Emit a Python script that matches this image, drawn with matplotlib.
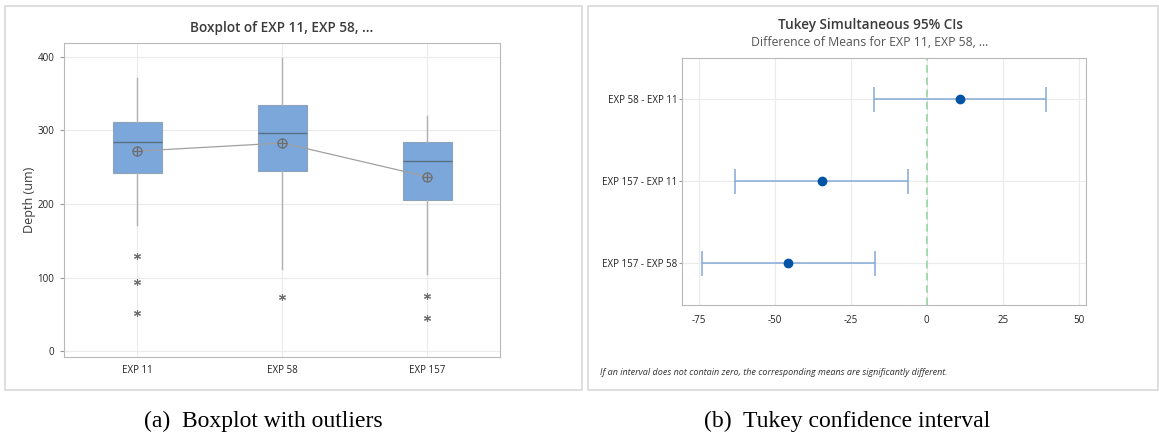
import matplotlib.pyplot as plt
from matplotlib.patches import Rectangle

plt.rcParams['font.family'] = ['Open Sans', 'DejaVu Sans']
plt.rcParams['axes.unicode_minus'] = False

# boxplot summary values (Depth, um)
groups = ['EXP 11', 'EXP 58', 'EXP 157']
q1 = [242, 245, 206]
medians = [285, 296, 259]
q3 = [311, 335, 285]
whisker_low = [172, 112, 105]
whisker_high = [372, 398, 320]
means = [272, 283, 237]
outliers = [[130, 94, 52], [74], [75, 45]]

# Tukey pairwise differences
pairs = ['EXP 58 - EXP 11', 'EXP 157 - EXP 11', 'EXP 157 - EXP 58']
diff_center = [11.0, -34.5, -45.5]
diff_low = [-17.5, -63.0, -74.0]
diff_high = [39.3, -6.0, -16.9]

fig = plt.figure(figsize=(11.59, 4.36), dpi=100)

# light panel frames
for x0, x1 in [(5, 582), (588, 1158)]:
    fig.patches.append(Rectangle((x0 / 1159, 1 - 390 / 436), (x1 - x0) / 1159, 384 / 436,
                                 transform=fig.transFigure, fill=False,
                                 edgecolor='#d9d9d9', linewidth=1.2))

grid_kw = dict(color='#ebebeb', linewidth=0.8)
title_kw = dict(fontsize=9.8, color='#3a3a3a', fontweight='semibold')

# ---- (a) boxplot
ax1 = fig.add_axes([0.0548, 0.1812, 0.3766, 0.7202])
stats = []
for i, g in enumerate(groups):
    stats.append(dict(label=g, q1=q1[i], med=medians[i], q3=q3[i],
                      whislo=whisker_low[i], whishi=whisker_high[i],
                      mean=means[i], fliers=outliers[i]))
pos = [1, 2, 3]
ax1.bxp(stats, positions=pos, widths=0.335, patch_artist=True,
        showmeans=False, showcaps=False,
        boxprops=dict(facecolor='#7ba7db', edgecolor='#8ea3b8', linewidth=0.8),
        medianprops=dict(color='#5b6f86', linewidth=1.0),
        whiskerprops=dict(color='#b0b0b0', linewidth=1.0),
        flierprops=dict(marker=(6, 2, 0), markersize=5, markeredgecolor='#6e6e6e',
                        markeredgewidth=0.8, linestyle='none'))
ax1.plot(pos, means, color='#a0a0a0', linewidth=0.9, zorder=4)
ax1.plot(pos, means, 'o', markersize=6.5, markerfacecolor='none',
         markeredgecolor='#6e6e6e', markeredgewidth=0.9, zorder=5)
ax1.plot(pos, means, '+', markersize=6.5, markeredgecolor='#6e6e6e',
         markeredgewidth=0.9, zorder=5)
ax1.set_xlim(0.49, 3.5)
ax1.set_ylim(-8, 419)
ax1.set_yticks([0, 100, 200, 300, 400])
ax1.set_xticks(pos)
ax1.set_xticklabels(groups)
ax1.grid(True, **grid_kw)
ax1.set_axisbelow(True)
ax1.set_ylabel('Depth (um)', fontsize=9, color='#3a3a3a')
ax1.yaxis.set_label_coords(-0.063, 0.5)
ax1.set_title('Boxplot of EXP 11, EXP 58, ...', pad=8, **title_kw)
ax1.tick_params(axis='both', labelsize=7, colors='#222222', length=3, color='#999999')
ax1.tick_params(axis='x', length=0, pad=6)
for s in ax1.spines.values():
    s.set_color('#b8b8b8')

# ---- (b) Tukey intervals
ax2 = fig.add_axes([0.5882, 0.2998, 0.3488, 0.5679])
rows = [3, 2, 1]
err = [[c - lo for c, lo in zip(diff_center, diff_low)],
       [hi - c for c, hi in zip(diff_center, diff_high)]]
ax2.errorbar(diff_center, rows, xerr=err, fmt='none', ecolor='#84a9d6',
             elinewidth=1.1, capsize=9, capthick=1.1, zorder=3)
ax2.plot(diff_center, rows, 'o', color='#0054a6', markersize=6, zorder=4)
ax2.axvline(0, color='#8fd39b', linestyle=(0, (5, 3)), linewidth=1.1, zorder=2)
ax2.set_xlim(-80.6, 52.4)
ax2.set_ylim(0.49, 3.5)
ax2.set_xticks([-75, -50, -25, 0, 25, 50])
ax2.set_yticks(rows)
ax2.set_yticklabels(pairs)
ax2.grid(True, **grid_kw)
ax2.set_axisbelow(True)
ax2.tick_params(axis='both', labelsize=7, colors='#222222', length=0)
ax2.tick_params(axis='y', length=2, color='#999999', pad=1)
ax2.tick_params(axis='x', pad=7)
for s in ax2.spines.values():
    s.set_color('#b8b8b8')

fig.text(0.7507, 1 - 25 / 436, 'Tukey Simultaneous 95% CIs', ha='center', va='center',
         **title_kw)
fig.text(0.7507, 1 - 43 / 436, 'Difference of Means for EXP 11, EXP 58, ...', ha='center',
         va='center', fontsize=8.8, color='#555555')
fig.text(600 / 1159, 1 - 372 / 436,
         'If an interval does not contain zero, the corresponding means are significantly different.',
         ha='left', va='center', fontsize=6.45, style='italic', color='#333333')

# captions
fig.text(263 / 1159, 1 - 421 / 436, '(a)  Boxplot with outliers', ha='center', va='center',
         fontsize=17, family='Liberation Serif')
fig.text(847 / 1159, 1 - 421 / 436, '(b)  Tukey confidence interval', ha='center', va='center',
         fontsize=17, family='Liberation Serif')

fig.savefig('out.png', dpi=100)
